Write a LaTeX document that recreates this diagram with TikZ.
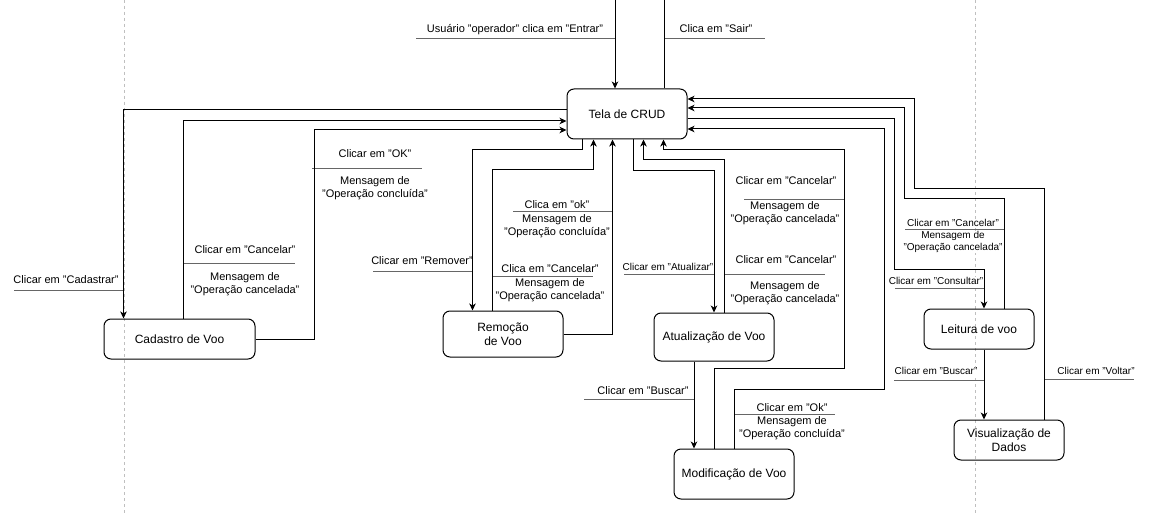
\documentclass[tikz,border=0pt]{standalone}
\usepackage{fontspec}
\setmainfont{Liberation Sans}
\usetikzlibrary{calc,arrows.meta}
\begin{document}
\begin{tikzpicture}[x=1pt,y=-1pt,
  box/.style={draw=black,line width=1pt,rounded corners=7pt,inner sep=0pt,font=\fontsize{12}{14}\selectfont,align=center},
  conn/.style={draw=black,line width=1pt},
  arr/.style={conn,-{Stealth[length=7pt,width=6.5pt,inset=2pt]}},
  lbl/.style={inner sep=0.5pt,fill=white,font=\fontsize{11}{13.5}\selectfont,align=center},
  slbl/.style={inner sep=0.5pt,fill=white,font=\fontsize{10}{12.5}\selectfont,align=center},
  uline/.style={draw=black!60,line width=1pt},
  guide/.style={draw=black!25,line width=0.8pt,dash pattern=on 3pt off 3pt}]
\path[use as bounding box,fill=white] (0,0) rectangle (1150,513);
\draw[guide] (124,0) -- (124,513);
\draw[guide] (975,0) -- (975,513);

% boxes
\node[box,minimum width=120pt,minimum height=50pt] (crud) at (627,114) {Tela de CRUD};
\node[box,minimum width=151pt,minimum height=40pt] (cad) at (179.5,339) {Cadastro de Voo};
\node[box,minimum width=120pt,minimum height=46pt] (rem) at (503,334) {Remoção\\de Voo};
\node[box,minimum width=120pt,minimum height=48pt] (atu) at (714,337) {Atualização de Voo};
\node[box,minimum width=120pt,minimum height=50pt] (mod) at (734,474) {Modificação de Voo};
\node[box,minimum width=110pt,minimum height=40pt] (lei) at (979,329) {Leitura de voo};
\node[box,minimum width=110pt,minimum height=40pt] (vis) at (1009,440) {Visualização de\\Dados};

% labels
\node[lbl] (l1) at (515,30) {Usuário "operador" clica em "Entrar"};
\node[lbl] (l2) at (716,29) {Clica em "Sair"};
\node[lbl] (l3) at (66,280) {Clicar em "Cadastrar"};
\node[lbl] (l4a) at (245,250) {Clicar em "Cancelar"};
\node[lbl] (l4b) at (245,284) {Mensagem de\\"Operação cancelada"};
\node[lbl] (l5a) at (375,154) {Clicar em "OK"};
\node[lbl] (l5b) at (375,188) {Mensagem de\\"Operação concluída"};
\node[lbl] (l6a) at (557,205) {Clica em "ok"};
\node[lbl] (l6b) at (557,226) {Mensagem de\\"Operação concluída"};
\node[lbl] (l7) at (422,261) {Clicar em "Remover"};
\node[lbl] (l8a) at (550,269) {Clica em "Cancelar"};
\node[lbl] (l8b) at (550,290) {Mensagem de\\"Operação cancelada"};
\node[lbl] (l9a) at (786,181) {Clicar em "Cancelar"};
\node[lbl] (l9b) at (785,213) {Mensagem de\\"Operação cancelada"};
\node[slbl] (l10) at (668,267) {Clicar em "Atualizar"};
\node[lbl] (l11a) at (786,260) {Clicar em "Cancelar"};
\node[lbl] (l11b) at (785,293) {Mensagem de\\"Operação cancelada"};
\node[lbl] (l12) at (643,391) {Clicar em "Buscar"};
\node[lbl] (l13a) at (792,408) {Clicar em "Ok"};
\node[lbl] (l13b) at (792,428) {Mensagem de\\"Operação concluída"};
\node[slbl] (l14a) at (953,223) {Clicar em "Cancelar"};
\node[slbl] (l14b) at (953,242) {Mensagem de\\"Operação cancelada"};
\node[slbl] (l15) at (936,281) {Clicar em "Consultar"};
\node[slbl] (l16) at (936,371) {Clicar em "Buscar"};
\node[slbl] (l17) at (1096,371) {Clicar em "Voltar"};

% label underlines
\draw[uline] (416,39) -- (615,39);
\draw[uline] (664,39) -- (765,39);
\draw[uline] (14,290) -- (124,290);
\draw[uline] (184,263) -- (295,263);
\draw[uline] (312,169) -- (422,169);
\draw[uline] (513,211) -- (613,211);
\draw[uline] (373,271) -- (473,271);
\draw[uline] (493,276) -- (593,276);
\draw[uline] (744,199) -- (844,199);
\draw[uline] (624,274) -- (714,274);
\draw[uline] (724,274) -- (825,274);
\draw[uline] (584,399) -- (694,399);
\draw[uline] (734,414) -- (835,414);
\draw[uline] (905,229) -- (1004,229);
\draw[uline] (895,288) -- (984,288);
\draw[uline] (894,380) -- (984,380);
\draw[uline] (1044,379) -- (1134,379);

% free ends at the top
\coordinate (entr) at (615,0);
\coordinate (sair) at (664,0);

% connectors
\draw[arr] (entr) -- (crud.north -| entr);
\draw[conn] (crud.north -| sair) -- (sair);
\draw[arr] ($(crud.west)+(0,-4)$) -| ($(cad.north west)+(20,0)$);
\draw[arr] ($(cad.north west)+(80,0)$) |- ($(crud.west)+(0,7)$);
\draw[arr] (cad.east) -- ++(59,0) |- ($(crud.west)+(0,16)$);
\draw[arr] ($(crud.south west)+(16,0)$) -- ++(0,10) -| ($(rem.north west)+(30,0)$);
\draw[arr] ($(rem.north west)+(50,0)$) -- ++(0,-141) -| ($(crud.south west)+(27,0)$);
\draw[arr] (rem.east) -| ($(crud.south west)+(46,0)$);
\draw[arr] ($(crud.south west)+(67,0)$) -- ++(0,31) -| (atu.north);
\draw[arr] ($(atu.north)+(10,0)$) -- ++(0,-153) -| ($(crud.south west)+(77,0)$);
\draw[arr] ($(atu.south)+(-20,0)$) -- ($(mod.north)+(-40,0)$);
\draw[arr] ($(mod.north)+(-20,0)$) -- ++(0,-80) -- ++(130,0) -- ++(0,-219) -| ($(crud.south west)+(97,0)$);
\draw[arr] (mod.north) -- ++(0,-59) -- ++(150,0) |- ($(crud.east)+(0,15)$);
\draw[arr] ($(crud.east)+(0,5)$) -- ++(207,0) -- ++(0,150) -| ($(lei.north)+(5,0)$);
\draw[arr] ($(lei.north)+(25,0)$) -- ++(0,-110) -- ++(-100,0) |- ($(crud.east)+(0,-6)$);
\draw[arr] ($(lei.south)+(5,0)$) -- ($(vis.north)+(-25,0)$);
\draw[arr] ($(vis.north)+(35,0)$) -- ++(0,-231) -- ++(-130,0) |- ($(crud.east)+(0,-15)$);
\end{tikzpicture}
\end{document}
